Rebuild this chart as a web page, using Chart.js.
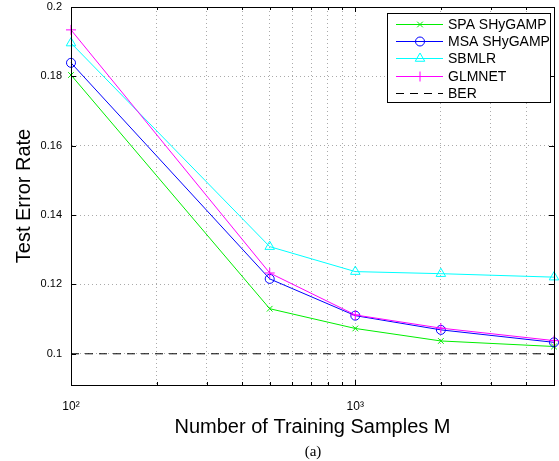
<!DOCTYPE html>
<html>
<head>
<meta charset="utf-8">
<script src="https://cdn.jsdelivr.net/npm/chart.js@4/dist/chart.umd.min.js"></script>
<style>
  html, body { margin: 0; padding: 0; background: #fff; }
  #wrap { position: relative; width: 559px; height: 461px; }
  #caption { position: absolute; left: 71px; width: 484px; top: 443px; text-align: center; line-height: 16px;
             font-family: "Liberation Serif", "DejaVu Serif", serif; font-size: 15px; color: #000; }
</style>
</head>
<body>
<div id="wrap">
  <canvas id="chart" width="559" height="461"></canvas>
  <div id="caption">(a)</div>
</div>
<script>
// training set sizes M
const samples = [100, 500, 1000, 2000, 5000];

// test error rates
const spaShygamp = [0.1804, 0.1130, 0.1073, 0.1037, 0.1021];
const msaShygamp = [0.1839, 0.1216, 0.1110, 0.1069, 0.1033];
const sbmlr = [0.1896, 0.1309, 0.1237, 0.1231, 0.1221];
const glmnet = [0.1934, 0.1233, 0.1112, 0.1074, 0.1038];
const ber = [0.1, 0.1, 0.1, 0.1, 0.1];

const yTicks = [0.1, 0.12, 0.14, 0.16, 0.18, 0.2];
const xTicks = [100, 200, 300, 400, 500, 600, 700, 800, 900, 1000, 2000, 3000, 4000, 5000];

const toPoints = vals => vals.map((v, i) => ({ x: samples[i], y: v }));

const FONT = '"Liberation Sans", Arial, Helvetica, sans-serif';

function series(label, vals, color, pointStyle, radius) {
    return {
        label,
        data: toPoints(vals),
        borderColor: color,
        backgroundColor: "rgba(0,0,0,0)",
        pointBorderColor: color,
        pointBackgroundColor: "rgba(0,0,0,0)",
        borderWidth: 1,
        pointStyle,
        pointRadius: radius,
        pointBorderWidth: 1,
        pointHoverRadius: radius,
        tension: 0,
        clip: false,
    };
}

const datasets = [
    series("SPA SHyGAMP", spaShygamp, "#00ee00", "crossRot", 4),
    series("MSA SHyGAMP", msaShygamp, "#0000ff", "circle", 4.5),
    series("SBMLR", sbmlr, "#00ffff", "triangle", 5.5),
    series("GLMNET", glmnet, "#ff00ff", "cross", 5),
    {
        label: "BER",
        data: toPoints(ber),
        borderColor: "#000",
        borderWidth: 1,
        borderDash: [8, 6],
        pointRadius: 0,
        pointStyle: false,
    },
];
datasets.forEach((d, i) => (d.order = datasets.length - i));

// the layout padding alone decides where the plot box sits
const noScalePadding = scale => {
    scale.paddingTop = 0;
    scale.paddingBottom = 0;
    scale.paddingLeft = 0;
    scale.paddingRight = 0;
};

// box around the plot + inward tick marks, matlab style
const frame = {
    id: "frame",
    afterDatasetsDraw(chart) {
        const { ctx, chartArea: a, scales } = chart;
        ctx.save();
        ctx.strokeStyle = "#000";
        ctx.lineWidth = 1;
        ctx.strokeRect(Math.round(a.left) + 0.5, Math.round(a.top) + 0.5,
            Math.round(a.right - a.left), Math.round(a.bottom - a.top));
        ctx.beginPath();
        yTicks.forEach(v => {
            const y = Math.round(scales.y.getPixelForValue(v)) + 0.5;
            ctx.moveTo(a.left, y); ctx.lineTo(a.left + 5, y);
            ctx.moveTo(a.right, y); ctx.lineTo(a.right - 5, y);
        });
        xTicks.forEach(v => {
            const x = Math.round(scales.x.getPixelForValue(v)) + 0.5;
            const len = (v === 100 || v === 1000) ? 5 : 3;
            ctx.moveTo(x, a.bottom); ctx.lineTo(x, a.bottom - len);
            ctx.moveTo(x, a.top); ctx.lineTo(x, a.top + len);
        });
        ctx.stroke();
        ctx.restore();
    },
};

// boxed legend in the upper right corner
const boxLegend = {
    id: "boxLegend",
    afterDraw(chart) {
        const { ctx, chartArea: a } = chart;
        const w = 163, h = 89, rowH = 17.2;
        const x0 = Math.round(a.right) - 167, y0 = Math.round(a.top) + 6;
        ctx.save();
        ctx.fillStyle = "#fff";
        ctx.fillRect(x0, y0, w, h);
        ctx.strokeStyle = "#000";
        ctx.lineWidth = 1;
        ctx.strokeRect(x0 + 0.5, y0 + 0.5, w, h);
        ctx.font = "14px " + FONT;
        ctx.textBaseline = "middle";
        datasets.forEach((d, i) => {
            const y = Math.round(y0 + 11 + i * rowH) + 0.5;
            ctx.strokeStyle = d.borderColor;
            ctx.lineWidth = 1;
            ctx.setLineDash(d.borderDash || []);
            ctx.beginPath();
            ctx.moveTo(x0 + 9, y);
            ctx.lineTo(x0 + 56, y);
            ctx.stroke();
            ctx.setLineDash([]);
            if (d.pointStyle) {
                ctx.fillStyle = "rgba(0,0,0,0)";
                Chart.helpers.drawPoint(ctx, {
                    pointStyle: d.pointStyle, radius: d.pointRadius, rotation: 0, borderWidth: 1,
                }, x0 + 33, y);
            }
            ctx.fillStyle = "#000";
            ctx.fillText(d.label, x0 + 61, y + 1);
        });
        ctx.restore();
    },
};

new Chart(document.getElementById("chart"), {
    type: "line",
    data: { datasets },
    options: {
        responsive: false,
        animation: false,
        layout: { autoPadding: false, padding: { top: 7, right: 5, bottom: 22, left: 0 } },
        plugins: { legend: { display: false }, tooltip: { enabled: false } },
        scales: {
            x: {
                type: "logarithmic",
                min: 100,
                max: 5000,
                afterBuildTicks: scale => { scale.ticks = xTicks.map(value => ({ value })); },
                afterFit: scale => { scale.height = 54; noScalePadding(scale); },
                ticks: {
                    autoSkip: false,
                    maxRotation: 0,
                    padding: 14,
                    color: "#000",
                    font: { family: FONT, size: 12 },
                    callback: v => (v === 100 ? "10²" : v === 1000 ? "10³" : ""),
                },
                grid: { color: "#aaa", drawTicks: false, lineWidth: 1 },
                border: { display: true, color: "#000", dash: [1, 3] },
                title: {
                    display: true,
                    text: "Number of Training Samples M",
                    color: "#000",
                    font: { family: FONT, size: 20 },
                    padding: { top: 0, bottom: 0 },
                },
            },
            y: {
                min: 0.091,
                max: 0.2,
                afterBuildTicks: scale => { scale.ticks = yTicks.map(value => ({ value })); },
                afterFit: scale => { scale.width = 71; noScalePadding(scale); },
                ticks: {
                    padding: 9,
                    color: "#000",
                    font: { family: FONT, size: 11 },
                    callback: v => String(+v.toFixed(2)),
                },
                grid: { color: "#aaa", drawTicks: false, lineWidth: 1 },
                border: { display: true, color: "#000", dash: [1, 3] },
                title: {
                    display: true,
                    text: "Test Error Rate",
                    color: "#000",
                    font: { family: FONT, size: 20 },
                    padding: { top: 12, bottom: 0 },
                },
            },
        },
    },
    plugins: [frame, boxLegend],
});
</script>
</body>
</html>
